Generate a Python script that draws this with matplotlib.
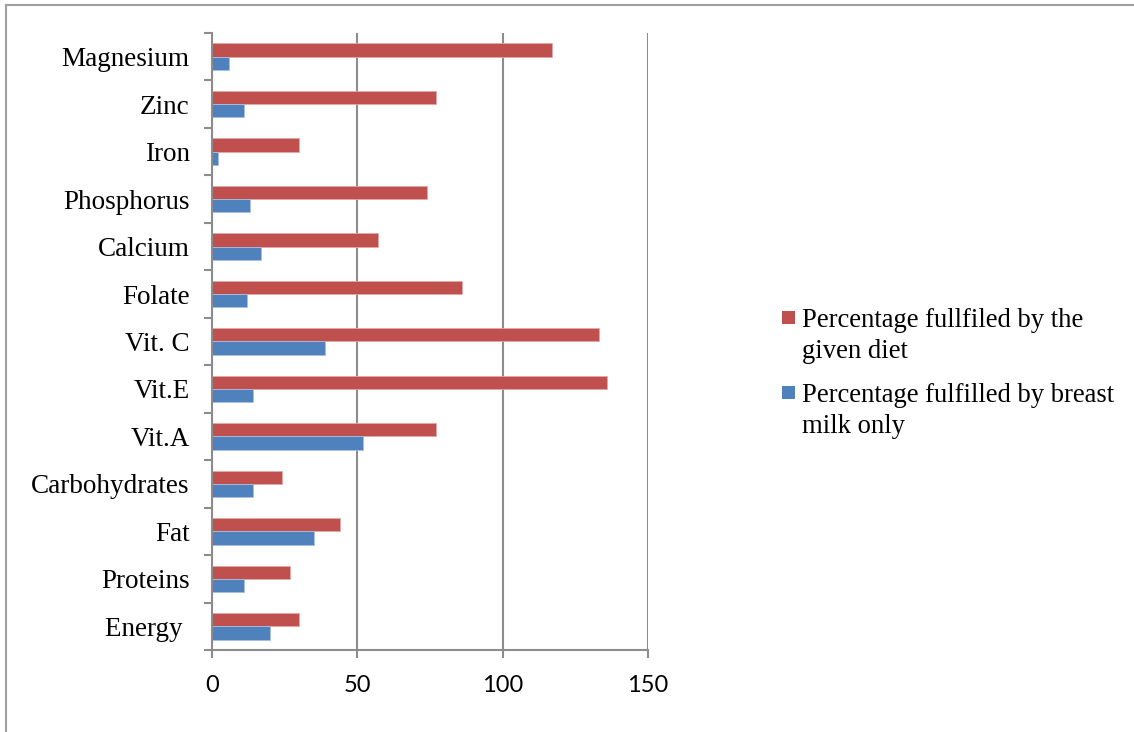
import numpy as np
import matplotlib.pyplot as plt
from matplotlib.lines import Line2D
from matplotlib.patches import Rectangle


nutrients = ["Energy ", "Proteins", "Fat", "Carbohydrates", "Vit.A", "Vit.E",
             "Vit. C", "Folate", "Calcium", "Phosphorus", "Iron", "Zinc",
             "Magnesium"]
given_diet = [30, 27, 44, 24, 77, 136, 133, 86, 57, 74, 30, 77, 117]
breast_milk = [20, 11, 35, 14, 52, 14, 39, 12, 17, 13, 2, 11, 6]
x_ticks = [0, 50, 100, 150]
series_labels = [["Percentage fullfiled by the", "given diet"],
                 ["Percentage fulfilled by breast", "milk only"]]

red = "#C0504D"
blue = "#4F81BD"
grey = "#8C8C8C"

W, H = 1134, 732
fig = plt.figure(figsize=(W / 100, H / 100), dpi=100)
ax = fig.add_axes([212 / W, 82 / H, 436 / W, 617 / H])

y = np.arange(len(nutrients))
h = 0.28
ax.barh(y + h / 2, given_diet, height=h, color=red,
        edgecolor="#E3A9A8", linewidth=0.6)
ax.barh(y - h / 2, breast_milk, height=h, color=blue,
        edgecolor="#A9C0DE", linewidth=0.6)

ax.set_xlim(0, 150)
ax.set_ylim(-0.5, len(nutrients) - 0.5)
ax.set_xticks(x_ticks)
ax.set_xticklabels([str(t) for t in x_ticks], family="Lato", fontsize=17)
ax.set_yticks(np.arange(len(nutrients) + 1) - 0.5, minor=True)
ax.set_yticks(y)
ax.set_yticklabels(nutrients, family="Liberation Serif", fontsize=19.5)
ax.tick_params(axis="y", which="major", length=0, pad=16)
ax.tick_params(axis="y", which="minor", length=6, width=1.5, color=grey)
ax.tick_params(axis="x", length=6, width=1.5, color=grey, pad=12)

ax.grid(axis="x", color=grey, linewidth=1.5)
ax.set_axisbelow(True)
for side in ["top", "right"]:
    ax.spines[side].set_visible(False)
for side in ["left", "bottom"]:
    ax.spines[side].set_color(grey)
    ax.spines[side].set_linewidth(1.5)

# legend: square key next to the first line of each two-line label
for colour, lines, top in zip([red, blue], series_labels, [327, 402]):
    fig.add_artist(Rectangle((782 / W, 1 - (top - 3) / H), 13 / W, 13 / H,
                             transform=fig.transFigure, facecolor=colour,
                             edgecolor="none"))
    for k, line in enumerate(lines):
        fig.text(802 / W, 1 - (top + 31 * k) / H, line, va="baseline",
                 ha="left", family="Liberation Serif", fontsize=19.2)

# outer frame: top and left edges
fig.add_artist(Line2D([6 / W, 1], [1 - 5 / H, 1 - 5 / H],
                      transform=fig.transFigure, color="#A0A0A0", linewidth=1.5))
fig.add_artist(Line2D([6 / W, 6 / W], [0, 1 - 5 / H],
                      transform=fig.transFigure, color="#A0A0A0", linewidth=1.5))

fig.savefig("out.png", dpi=100)
